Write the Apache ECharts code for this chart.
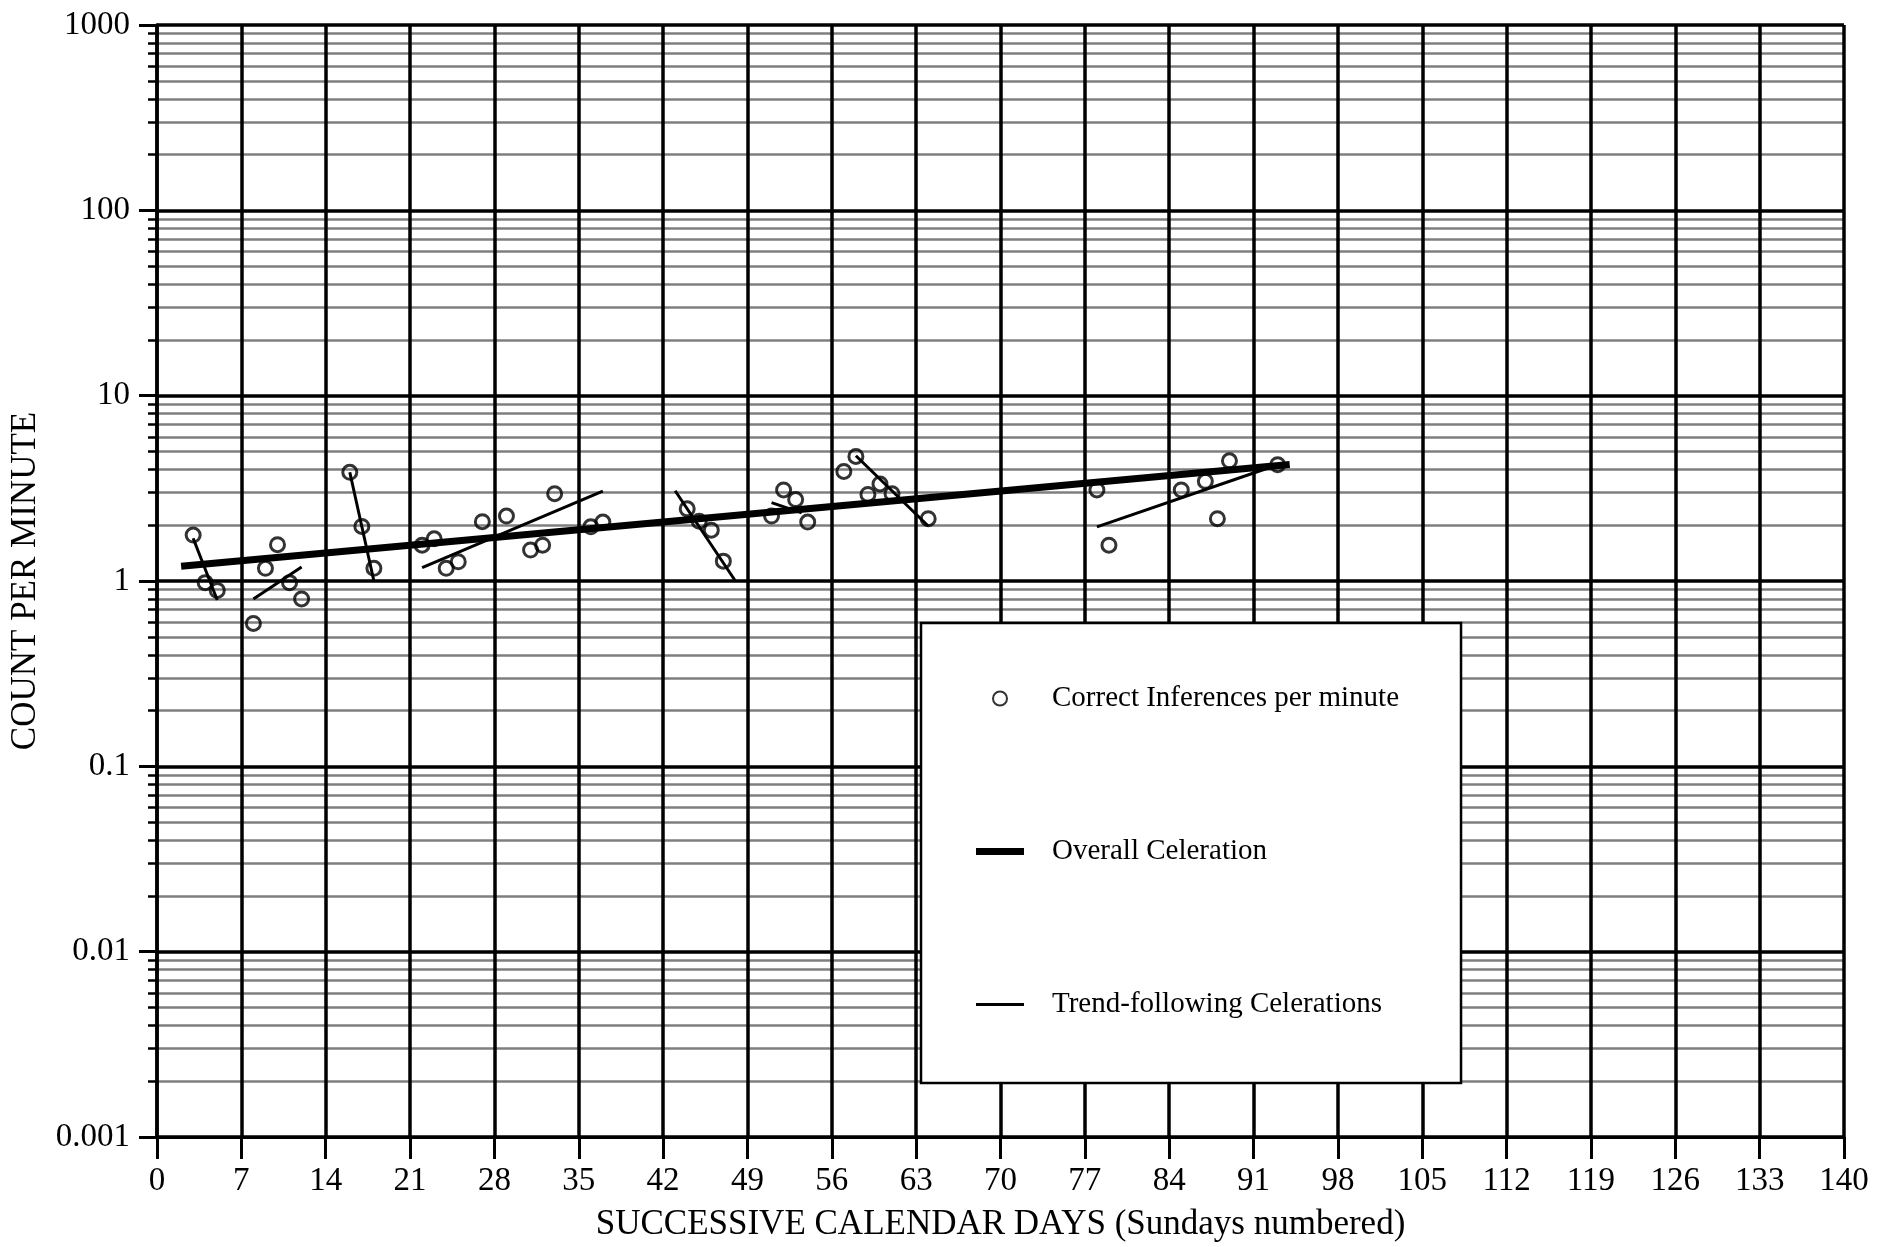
<!DOCTYPE html>
<html><head><meta charset="utf-8">
<script src="https://cdn.jsdelivr.net/npm/echarts@6/dist/echarts.min.js"></script>
<style>html,body{margin:0;padding:0;background:#fff}#c{width:1896px;height:1247px}</style>
</head><body><div id="c"></div>
<script>
// ---- data ----
const days  = [3,4,5,8,9,10,11,12,16,17,18,22,23,24,25,27,29,31,32,33,36,37,44,45,46,47,51,52,53,54,57,58,59,60,61,64,78,79,85,87,88,89,93];
const rates = [1.77,0.98,0.89,0.59,1.17,1.57,0.98,0.80,3.86,1.97,1.17,1.56,1.69,1.17,1.27,2.09,2.24,1.47,1.56,2.96,1.96,2.08,2.45,2.10,1.88,1.28,2.24,3.10,2.75,2.08,3.90,4.70,2.93,3.34,2.96,2.17,3.10,1.56,3.10,3.45,2.17,4.45,4.24];

const overallDays  = [2, 94];
const overallRates = [1.20, 4.25];

const trendStartDays  = [3, 8, 16, 22, 43, 51, 58, 78];
const trendStartRates = [1.70, 0.80, 3.86, 1.18, 3.07, 2.65, 4.74, 1.96];
const trendEndDays    = [5, 12, 18, 37, 48, 53.5, 64, 93];
const trendEndRates   = [0.79, 1.19, 1.00, 3.05, 1.00, 2.33, 1.98, 4.24];

const yMajorTicks = [0.001, 0.01, 0.1, 1, 10, 100, 1000];
const yMinorMultipliers = [2, 3, 4, 5, 6, 7, 8, 9];
const xTickInterval = 7;

const scatterName = 'Correct Inferences per minute';
const overallName = 'Overall Celeration';
const trendName = 'Trend-following Celerations';

// ---- build ----
const yMinorTicks = [];
yMajorTicks.slice(0, -1).forEach(d => yMinorMultipliers.forEach(m => yMinorTicks.push(+(d * m).toPrecision(4))));

const FONT = 'Liberation Serif';
const series = [];
series.push({
  name: scatterName, type: 'scatter', z: 6,
  data: days.map((d, i) => [d, rates[i]]),
  symbol: 'circle', symbolSize: 14,
  itemStyle: { color: 'rgba(0,0,0,0)', borderColor: '#000', borderWidth: 3 }
});
series.push({
  name: overallName, type: 'line', z: 5, symbol: 'none', showSymbol: false,
  data: overallDays.map((d, i) => [d, overallRates[i]]),
  lineStyle: { color: '#000', width: 7 }, itemStyle: { color: '#000' }
});
trendStartDays.forEach((d, i) => {
  series.push({
    name: trendName, type: 'line', z: 5, symbol: 'none', showSymbol: false,
    data: [[d, trendStartRates[i]], [trendEndDays[i], trendEndRates[i]]],
    lineStyle: { color: '#000', width: 3 }, itemStyle: { color: '#000' }
  });
});

const chart = echarts.init(document.getElementById('c'));
chart.setOption({
  animation: false,
  backgroundColor: '#fff',
  grid: { left: 154, top: 25, right: 52, bottom: 107 },
  xAxis: {
    type: 'value', min: 0, max: 140, interval: xTickInterval, z: 1,
    name: 'SUCCESSIVE CALENDAR DAYS (Sundays numbered)',
    nameLocation: 'middle', nameGap: 70,
    nameTextStyle: { fontFamily: FONT, fontSize: 35, color: '#000' },
    axisLine: { show: true, onZero: false, lineStyle: { color: '#000', width: 3 } },
    axisTick: { show: true, length: 22, lineStyle: { color: '#000', width: 3 } },
    axisLabel: { fontFamily: FONT, fontSize: 33, color: '#000', margin: 28 },
    splitLine: { show: true, lineStyle: { color: '#000', width: 3.5 } }
  },
  yAxis: [
    {
      type: 'log', logBase: 10, min: 0.001, max: 1000, position: 'left', z: 1,
      name: 'COUNT PER MINUTE', nameLocation: 'middle', nameGap: 114,
      nameTextStyle: { fontFamily: FONT, fontSize: 35, color: '#000' },
      axisLine: { show: true, lineStyle: { color: '#000', width: 3.5 } },
      axisTick: { show: true, length: 18, customValues: yMajorTicks, lineStyle: { color: '#000', width: 3 } },
      axisLabel: { fontFamily: FONT, fontSize: 33, color: '#000', margin: 27, customValues: yMajorTicks, formatter: v => String(v) },
      splitLine: { show: true, lineStyle: { color: '#000', width: 3.5 } }
    },
    {
      type: 'log', logBase: 10, min: 0.001, max: 1000, position: 'left', z: 0,
      axisLine: { show: false },
      axisTick: { show: true, length: 9, customValues: yMinorTicks, lineStyle: { color: '#000', width: 2.5 } },
      axisLabel: { show: false },
      splitLine: { show: true, lineStyle: { color: '#7f7f7f', width: 2.5 } }
    }
  ],
  legend: {
    orient: 'vertical', left: 921, top: 623, selectedMode: false,
    data: [
      { name: scatterName },
      { name: overallName, icon: 'path://M0,0L48,0L48,7L0,7Z', itemStyle: { color: '#000', borderWidth: 0 } },
      { name: trendName, icon: 'path://M0,0L48,0L48,3L0,3Z', itemStyle: { color: '#000', borderWidth: 0 } }
    ],
    symbolKeepAspect: true,
    itemWidth: 48, itemHeight: 14, itemGap: 124,
    padding: [61, 62, 64, 55],
    backgroundColor: '#fff', borderColor: '#000', borderWidth: 2.5,
    textStyle: { fontFamily: FONT, fontSize: 29, color: '#000', padding: [0, 0, 0, 23] }
  },
  series: series
});
</script>
</body></html>
